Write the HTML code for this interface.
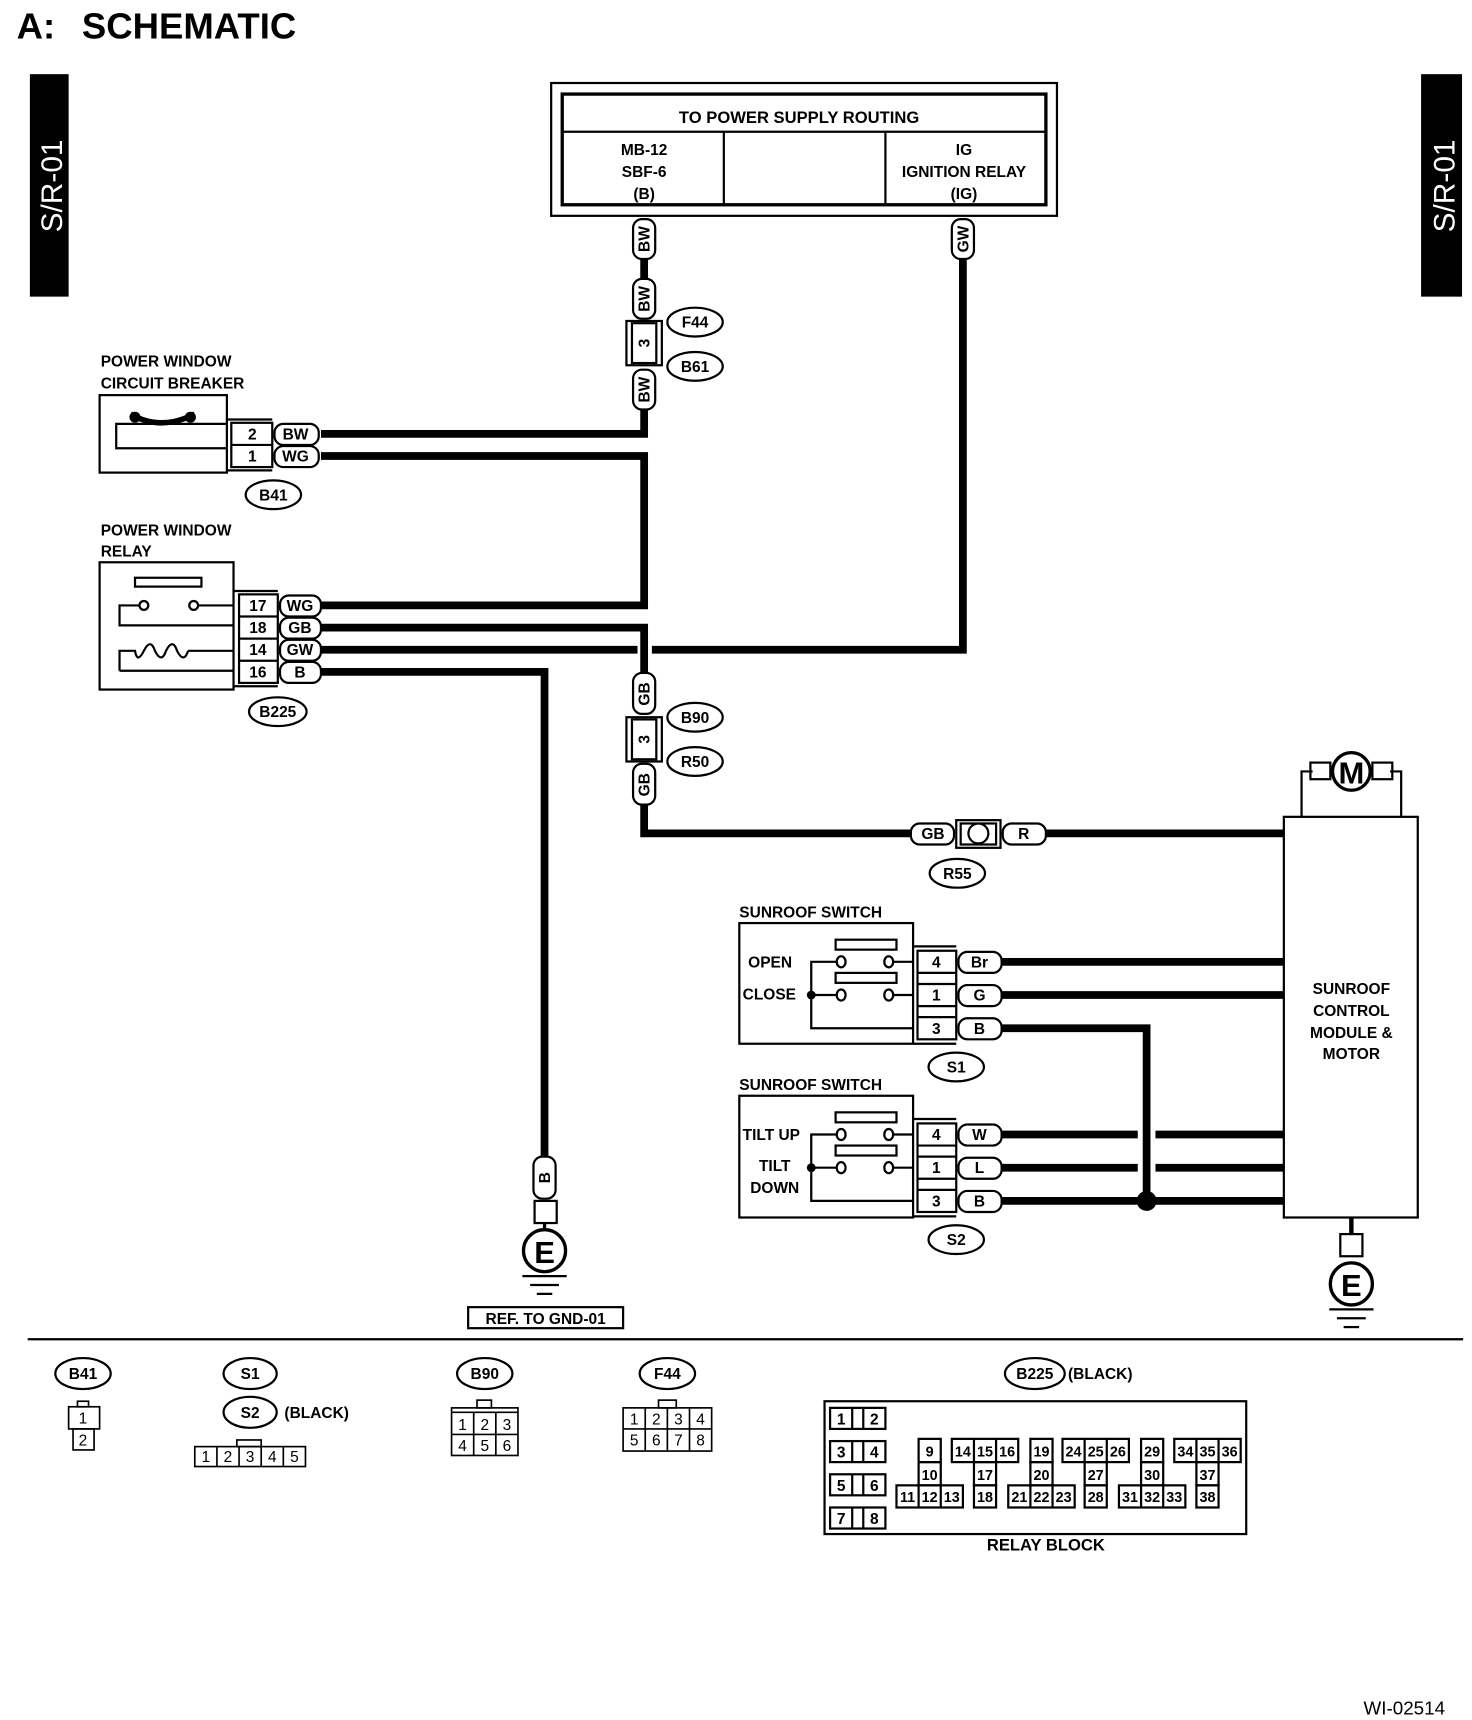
<!DOCTYPE html>
<html><head><meta charset="utf-8"><style>
html,body{margin:0;padding:0;background:#fff}
svg{display:block}
text{font-family:"Liberation Sans",Arial,sans-serif;font-weight:bold;fill:#000}
</style></head><body>
<svg width="1472" height="1720" viewBox="0 0 1330 1554" preserveAspectRatio="none" xmlns="http://www.w3.org/2000/svg">
<rect x="0" y="0" width="1330" height="1554" fill="#fff"/>
<text x="15" y="35" font-size="33">A:</text><text x="74" y="35" font-size="33">SCHEMATIC</text>
<!-- tabs -->
<rect x="27" y="67" width="35" height="201" fill="#000"/>
<text transform="translate(56,168) rotate(-90)" text-anchor="middle" font-size="27" style="fill:#fff;font-weight:normal">S/R-01</text>
<rect x="1284" y="67" width="37" height="201" fill="#000"/>
<text transform="translate(1314,168) rotate(-90)" text-anchor="middle" font-size="27" style="fill:#fff;font-weight:normal">S/R-01</text>

<g fill="none" stroke="#000">
<rect x="498" y="75" width="457" height="120" stroke-width="2"/>
<rect x="508" y="85" width="437" height="100" stroke-width="3"/>
<line x1="508" y1="119" x2="945" y2="119" stroke-width="2"/>
<line x1="654" y1="119" x2="654" y2="185" stroke-width="2"/>
<line x1="800" y1="119" x2="800" y2="185" stroke-width="2"/>
<g stroke-width="7" stroke-linejoin="miter">
<polyline points="582,234 582,252"/>
<polyline points="582,370 582,392 290,392"/>
<polyline points="290,412 582,412 582,547 290,547"/>
<polyline points="870,234 870,587 589,587"/>
<polyline points="290,587 576,587"/>
<polyline points="290,567 582,567 582,608"/>
<polyline points="582,727 582,753 825,753"/>
<polyline points="945,753 1160,753"/>
<polyline points="290,607 492,607 492,1045"/>
<polyline points="905,869 1160,869"/>
<polyline points="905,899 1160,899"/>
<polyline points="905,929 1036,929 1036,1085"/>
<polyline points="905,1025 1028,1025"/><polyline points="1044,1025 1160,1025"/>
<polyline points="905,1055 1028,1055"/><polyline points="1044,1055 1160,1055"/>
<polyline points="905,1085 1160,1085"/>
</g>
<rect x="566" y="290" width="32" height="40" stroke-width="2"/>
<rect x="571" y="292" width="22" height="36" stroke-width="2"/>
<rect x="566" y="648" width="32" height="40" stroke-width="2"/>
<rect x="571" y="650" width="22" height="36" stroke-width="2"/>
<rect x="864" y="741" width="40" height="25" stroke-width="2"/>
<rect x="868" y="744" width="32" height="19" stroke-width="2"/>
<ellipse cx="884" cy="753" rx="9" ry="9" stroke-width="2"/>
<rect x="90" y="357" width="115" height="70" stroke-width="2"/>
<polyline points="205,383 105,383 105,405 205,405" stroke-width="2"/>
<path d="M118 374 Q145 390 176 374" stroke-width="5"/>
<rect x="209" y="382" width="37" height="40" stroke-width="2"/>
<line x1="209" y1="402" x2="246" y2="402" stroke-width="2"/>
<polyline points="205,379 246,379" stroke-width="2"/><polyline points="205,425 246,425" stroke-width="2"/>
<rect x="90" y="508" width="121" height="115" stroke-width="2"/>
<rect x="122" y="522" width="60" height="8" stroke-width="2"/>
<polyline points="211,547 179,547" stroke-width="2"/><circle cx="175" cy="547" r="4" stroke-width="2"/>
<circle cx="130" cy="547" r="4" stroke-width="2"/><polyline points="126,547 108,547 108,565 211,565" stroke-width="2"/>
<path d="M211 588 L170 588 M108 606 L108 588 L122 588 q2 12 8 0 q6 -12 10 0 q6 12 10 0 q6 -12 10 0 q6 12 10 0 M108 606 L211 606" stroke-width="2"/>
<rect x="216" y="537" width="35" height="80" stroke-width="2"/>
<line x1="216" y1="557" x2="251" y2="557" stroke-width="2"/>
<line x1="216" y1="577" x2="251" y2="577" stroke-width="2"/>
<line x1="216" y1="597" x2="251" y2="597" stroke-width="2"/>
<polyline points="211,534 251,534" stroke-width="2"/><polyline points="211,620 251,620" stroke-width="2"/>
<rect x="483" y="1085" width="20" height="20" stroke-width="2"/>
<line x1="492" y1="1105" x2="492" y2="1111" stroke-width="3"/>
<circle cx="492" cy="1130" r="19" stroke-width="3"/>
<line x1="472" y1="1153" x2="512" y2="1153" stroke-width="2"/>
<line x1="479" y1="1161" x2="505" y2="1161" stroke-width="2"/>
<line x1="485" y1="1169" x2="499" y2="1169" stroke-width="2"/>
<rect x="423" y="1181" width="140" height="19" stroke-width="2"/>
<rect x="1160" y="738" width="121" height="362" stroke-width="2"/>
<polyline points="1176,738 1176,697 1186,697" stroke-width="2"/>
<polyline points="1266,738 1266,697 1256,697" stroke-width="2"/>
<rect x="1184" y="689" width="18" height="15" stroke-width="2"/>
<rect x="1240" y="689" width="18" height="15" stroke-width="2"/>
<circle cx="1221" cy="697" r="17" stroke-width="3" fill="#fff"/>
<line x1="1221" y1="1100" x2="1221" y2="1115" stroke-width="4"/>
<rect x="1211" y="1115" width="20" height="20" stroke-width="2"/>
<circle cx="1221" cy="1160" r="19" stroke-width="3"/>
<line x1="1201" y1="1183" x2="1241" y2="1183" stroke-width="2"/>
<line x1="1208" y1="1191" x2="1234" y2="1191" stroke-width="2"/>
<line x1="1214" y1="1199" x2="1228" y2="1199" stroke-width="2"/>
<rect x="668" y="834" width="157" height="109" stroke-width="2"/>
<rect x="755" y="849" width="55" height="9" stroke-width="2"/>
<rect x="755" y="879" width="55" height="9" stroke-width="2"/>
<ellipse cx="760" cy="869" rx="4" ry="5" stroke-width="2"/><ellipse cx="803" cy="869" rx="4" ry="5" stroke-width="2"/>
<ellipse cx="760" cy="899" rx="4" ry="5" stroke-width="2"/><ellipse cx="803" cy="899" rx="4" ry="5" stroke-width="2"/>
<polyline points="756,869 733,869 733,929 825,929" stroke-width="2"/>
<line x1="733" y1="899" x2="756" y2="899" stroke-width="2"/>
<line x1="807" y1="869" x2="825" y2="869" stroke-width="2"/><line x1="807" y1="899" x2="825" y2="899" stroke-width="2"/>
<rect x="829" y="859" width="35" height="80" stroke-width="2"/>
<line x1="829" y1="879" x2="864" y2="879" stroke-width="2"/><line x1="829" y1="889" x2="864" y2="889" stroke-width="2"/>
<line x1="829" y1="909" x2="864" y2="909" stroke-width="2"/><line x1="829" y1="919" x2="864" y2="919" stroke-width="2"/>
<polyline points="825,855 864,855" stroke-width="2"/><polyline points="825,943 864,943" stroke-width="2"/>
<rect x="668" y="990" width="157" height="110" stroke-width="2"/>
<rect x="755" y="1005" width="55" height="9" stroke-width="2"/>
<rect x="755" y="1035" width="55" height="9" stroke-width="2"/>
<ellipse cx="760" cy="1025" rx="4" ry="5" stroke-width="2"/><ellipse cx="803" cy="1025" rx="4" ry="5" stroke-width="2"/>
<ellipse cx="760" cy="1055" rx="4" ry="5" stroke-width="2"/><ellipse cx="803" cy="1055" rx="4" ry="5" stroke-width="2"/>
<polyline points="756,1025 733,1025 733,1085 825,1085" stroke-width="2"/>
<line x1="733" y1="1055" x2="756" y2="1055" stroke-width="2"/>
<line x1="807" y1="1025" x2="825" y2="1025" stroke-width="2"/><line x1="807" y1="1055" x2="825" y2="1055" stroke-width="2"/>
<rect x="829" y="1015" width="35" height="80" stroke-width="2"/>
<line x1="829" y1="1035" x2="864" y2="1035" stroke-width="2"/><line x1="829" y1="1045" x2="864" y2="1045" stroke-width="2"/>
<line x1="829" y1="1065" x2="864" y2="1065" stroke-width="2"/><line x1="829" y1="1075" x2="864" y2="1075" stroke-width="2"/>
<polyline points="825,1011 864,1011" stroke-width="2"/><polyline points="825,1099 864,1099" stroke-width="2"/>
<line x1="25" y1="1210" x2="1322" y2="1210" stroke-width="2"/>
</g>
<circle cx="122" cy="377" r="5"/><circle cx="172" cy="377" r="5"/>
<circle cx="733" cy="899" r="4"/><circle cx="733" cy="1055" r="4"/>
<circle cx="1036" cy="1085" r="9"/>

<g fill="#fff" stroke="#000" stroke-width="2">
<rect x="572" y="198" width="20" height="36" rx="8"/>
<rect x="572" y="252" width="20" height="36" rx="8"/>
<rect x="572" y="334" width="20" height="36" rx="8"/>
<rect x="860" y="198" width="20" height="36" rx="8"/>
<rect x="572" y="608" width="20" height="37" rx="8"/>
<rect x="572" y="690" width="20" height="37" rx="8"/>
<rect x="482" y="1045" width="20" height="38" rx="8"/>
<rect x="248" y="383" width="40" height="19" rx="8"/>
<rect x="248" y="403" width="40" height="19" rx="8"/>
<rect x="253" y="538" width="37" height="19" rx="8"/>
<rect x="253" y="558" width="37" height="19" rx="8"/>
<rect x="253" y="578" width="37" height="19" rx="8"/>
<rect x="253" y="598" width="37" height="19" rx="8"/>
<rect x="823" y="744" width="39" height="19" rx="8"/>
<rect x="906" y="744" width="39" height="19" rx="8"/>
<rect x="866" y="860" width="39" height="19" rx="8"/>
<rect x="866" y="890" width="39" height="19" rx="8"/>
<rect x="866" y="920" width="39" height="19" rx="8"/>
<rect x="866" y="1016" width="39" height="19" rx="8"/>
<rect x="866" y="1046" width="39" height="19" rx="8"/>
<rect x="866" y="1076" width="39" height="19" rx="8"/>
<ellipse cx="628" cy="291" rx="25" ry="13"/>
<ellipse cx="628" cy="331" rx="25" ry="13"/>
<ellipse cx="628" cy="648" rx="25" ry="13"/>
<ellipse cx="628" cy="688" rx="25" ry="13"/>
<ellipse cx="247" cy="447" rx="25" ry="13"/>
<ellipse cx="251" cy="643" rx="26" ry="13"/>
<ellipse cx="865" cy="789" rx="25" ry="13"/>
<ellipse cx="864" cy="964" rx="25" ry="13"/>
<ellipse cx="864" cy="1120" rx="25" ry="13"/>
<ellipse cx="75" cy="1241" rx="25" ry="14"/>
<ellipse cx="226" cy="1241" rx="24" ry="14"/>
<ellipse cx="226" cy="1276" rx="24" ry="14"/>
<ellipse cx="438" cy="1241" rx="25" ry="14"/>
<ellipse cx="603" cy="1241" rx="25" ry="14"/>
<ellipse cx="935" cy="1241" rx="27" ry="14"/>
</g>

<g font-size="14" text-anchor="middle">
<text x="722" y="111" font-size="15">TO POWER SUPPLY ROUTING</text>
<text x="582" y="140">MB-12</text><text x="582" y="160">SBF-6</text><text x="582" y="180">(B)</text>
<text x="871" y="140">IG</text><text x="871" y="160">IGNITION RELAY</text><text x="871" y="180">(IG)</text>
<text transform="translate(587,216) rotate(-90)">BW</text>
<text transform="translate(587,270) rotate(-90)">BW</text>
<text transform="translate(587,310) rotate(-90)">3</text>
<text transform="translate(587,352) rotate(-90)">BW</text>
<text transform="translate(875,216) rotate(-90)">GW</text>
<text transform="translate(587,627) rotate(-90)">GB</text>
<text transform="translate(587,668) rotate(-90)">3</text>
<text transform="translate(587,709) rotate(-90)">GB</text>
<text transform="translate(497,1064) rotate(-90)">B</text>
<text x="628" y="296">F44</text><text x="628" y="336">B61</text>
<text x="628" y="653">B90</text><text x="628" y="693">R50</text>
<text x="247" y="452">B41</text><text x="251" y="648">B225</text>
<text x="865" y="794">R55</text><text x="864" y="969">S1</text><text x="864" y="1125">S2</text>
<text x="228" y="397">2</text><text x="228" y="417">1</text>
<text x="267" y="397">BW</text><text x="267" y="417">WG</text>
<text x="233" y="552">17</text><text x="233" y="572">18</text><text x="233" y="592">14</text><text x="233" y="612">16</text>
<text x="271" y="552">WG</text><text x="271" y="572">GB</text><text x="271" y="592">GW</text><text x="271" y="612">B</text>
<text x="843" y="758">GB</text><text x="925" y="758">R</text>
<text x="846" y="874">4</text><text x="846" y="904">1</text><text x="846" y="934">3</text>
<text x="885" y="874">Br</text><text x="885" y="904">G</text><text x="885" y="934">B</text>
<text x="846" y="1030">4</text><text x="846" y="1060">1</text><text x="846" y="1090">3</text>
<text x="885" y="1030">W</text><text x="885" y="1060">L</text><text x="885" y="1090">B</text>
<text x="1221" y="898">SUNROOF</text><text x="1221" y="918">CONTROL</text><text x="1221" y="938">MODULE &amp;</text><text x="1221" y="957">MOTOR</text>
<text x="1221" y="708" font-size="28">M</text>
<text x="492" y="1141" font-size="28">E</text>
<text x="1221" y="1171" font-size="28">E</text>
<text x="493" y="1196">REF. TO GND-01</text>
<text x="75" y="1246">B41</text><text x="226" y="1246">S1</text><text x="226" y="1281">S2</text>
<text x="438" y="1246">B90</text><text x="603" y="1246">F44</text><text x="935" y="1246">B225</text>
<text x="945" y="1401" font-size="15">RELAY BLOCK</text>
<text x="700" y="1058">TILT</text><text x="700" y="1078">DOWN</text>
</g>
<g font-size="14">
<text x="91" y="331">POWER WINDOW</text><text x="91" y="351">CIRCUIT BREAKER</text>
<text x="91" y="484">POWER WINDOW</text><text x="91" y="503">RELAY</text>
<text x="668" y="829">SUNROOF SWITCH</text><text x="668" y="985">SUNROOF SWITCH</text>
<text x="676" y="874">OPEN</text><text x="671" y="903">CLOSE</text>
<text x="671" y="1030">TILT UP</text>
<text x="257" y="1281">(BLACK)</text><text x="965" y="1246">(BLACK)</text>
<text x="1232" y="1549" font-size="17" style="font-weight:normal">WI-02514</text>
</g>

<g fill="none" stroke="#000" stroke-width="1.5">
<rect x="70" y="1266" width="10" height="5"/><rect x="62" y="1271" width="28" height="20"/><rect x="66" y="1291" width="19" height="19"/>
<rect x="214" y="1301" width="22" height="6"/><rect x="176" y="1307" width="100" height="18"/>
<line x1="196" y1="1307" x2="196" y2="1325"/><line x1="216" y1="1307" x2="216" y2="1325"/><line x1="236" y1="1307" x2="236" y2="1325"/><line x1="256" y1="1307" x2="256" y2="1325"/>
<rect x="431" y="1265" width="13" height="7"/><rect x="408" y="1272" width="60" height="43"/><line x1="408" y1="1276" x2="468" y2="1276"/>
<line x1="408" y1="1296" x2="468" y2="1296"/><line x1="428" y1="1276" x2="428" y2="1315"/><line x1="448" y1="1276" x2="448" y2="1315"/>
<rect x="595" y="1265" width="16" height="7"/><rect x="563" y="1272" width="80" height="39"/>
<line x1="563" y1="1291" x2="643" y2="1291"/><line x1="583" y1="1272" x2="583" y2="1311"/><line x1="603" y1="1272" x2="603" y2="1311"/><line x1="623" y1="1272" x2="623" y2="1311"/>
<rect x="745" y="1266" width="381" height="120" stroke-width="2"/>
</g>
<g font-size="14" text-anchor="middle">
<text x="75" y="1286" style="font-weight:normal">1</text><text x="75" y="1306" style="font-weight:normal">2</text>
<text x="186" y="1321" style="font-weight:normal">1</text><text x="206" y="1321" style="font-weight:normal">2</text><text x="226" y="1321" style="font-weight:normal">3</text><text x="246" y="1321" style="font-weight:normal">4</text><text x="266" y="1321" style="font-weight:normal">5</text>
<text x="418" y="1292" style="font-weight:normal">1</text><text x="438" y="1292" style="font-weight:normal">2</text><text x="458" y="1292" style="font-weight:normal">3</text>
<text x="418" y="1311" style="font-weight:normal">4</text><text x="438" y="1311" style="font-weight:normal">5</text><text x="458" y="1311" style="font-weight:normal">6</text>
<text x="573" y="1287" style="font-weight:normal">1</text><text x="593" y="1287" style="font-weight:normal">2</text><text x="613" y="1287" style="font-weight:normal">3</text><text x="633" y="1287" style="font-weight:normal">4</text>
<text x="573" y="1306" style="font-weight:normal">5</text><text x="593" y="1306" style="font-weight:normal">6</text><text x="613" y="1306" style="font-weight:normal">7</text><text x="633" y="1306" style="font-weight:normal">8</text>
</g>
<g fill="none" stroke="#000" stroke-width="2">
<rect x="750" y="1272" width="50" height="19"/><line x1="770" y1="1272" x2="770" y2="1291"/><line x1="780" y1="1272" x2="780" y2="1291"/>
<rect x="750" y="1302" width="50" height="19"/><line x1="770" y1="1302" x2="770" y2="1321"/><line x1="780" y1="1302" x2="780" y2="1321"/>
<rect x="750" y="1332" width="50" height="19"/><line x1="770" y1="1332" x2="770" y2="1351"/><line x1="780" y1="1332" x2="780" y2="1351"/>
<rect x="750" y="1362" width="50" height="19"/><line x1="770" y1="1362" x2="770" y2="1381"/><line x1="780" y1="1362" x2="780" y2="1381"/>
<rect x="830" y="1300" width="20" height="21"/><rect x="830" y="1321" width="20" height="21"/><rect x="810" y="1342" width="60" height="20"/><line x1="830" y1="1342" x2="830" y2="1362"/><line x1="850" y1="1342" x2="850" y2="1362"/>
<rect x="860" y="1300" width="60" height="21"/><line x1="880" y1="1300" x2="880" y2="1321"/><line x1="900" y1="1300" x2="900" y2="1321"/><rect x="880" y="1321" width="20" height="21"/><rect x="880" y="1342" width="20" height="20"/>
<rect x="931" y="1300" width="20" height="21"/><rect x="931" y="1321" width="20" height="21"/><rect x="911" y="1342" width="60" height="20"/><line x1="931" y1="1342" x2="931" y2="1362"/><line x1="951" y1="1342" x2="951" y2="1362"/>
<rect x="960" y="1300" width="60" height="21"/><line x1="980" y1="1300" x2="980" y2="1321"/><line x1="1000" y1="1300" x2="1000" y2="1321"/><rect x="980" y="1321" width="20" height="21"/><rect x="980" y="1342" width="20" height="20"/>
<rect x="1031" y="1300" width="20" height="21"/><rect x="1031" y="1321" width="20" height="21"/><rect x="1011" y="1342" width="60" height="20"/><line x1="1031" y1="1342" x2="1031" y2="1362"/><line x1="1051" y1="1342" x2="1051" y2="1362"/>
<rect x="1061" y="1300" width="60" height="21"/><line x1="1081" y1="1300" x2="1081" y2="1321"/><line x1="1101" y1="1300" x2="1101" y2="1321"/><rect x="1081" y="1321" width="20" height="21"/><rect x="1081" y="1342" width="20" height="20"/>
</g>
<g font-size="14" text-anchor="middle">
<text x="760" y="1287">1</text><text x="790" y="1287">2</text>
<text x="760" y="1317">3</text><text x="790" y="1317">4</text>
<text x="760" y="1347">5</text><text x="790" y="1347">6</text>
<text x="760" y="1377">7</text><text x="790" y="1377">8</text>
<g font-size="13" style="font-weight:normal">
<text x="840" y="1316">9</text><text x="840" y="1337">10</text><text x="820" y="1357">11</text><text x="840" y="1357">12</text><text x="860" y="1357">13</text>
<text x="870" y="1316">14</text><text x="890" y="1316">15</text><text x="910" y="1316">16</text><text x="890" y="1337">17</text><text x="890" y="1357">18</text>
<text x="941" y="1316">19</text><text x="941" y="1337">20</text><text x="921" y="1357">21</text><text x="941" y="1357">22</text><text x="961" y="1357">23</text>
<text x="970" y="1316">24</text><text x="990" y="1316">25</text><text x="1010" y="1316">26</text><text x="990" y="1337">27</text><text x="990" y="1357">28</text>
<text x="1041" y="1316">29</text><text x="1041" y="1337">30</text><text x="1021" y="1357">31</text><text x="1041" y="1357">32</text><text x="1061" y="1357">33</text>
<text x="1071" y="1316">34</text><text x="1091" y="1316">35</text><text x="1111" y="1316">36</text><text x="1091" y="1337">37</text><text x="1091" y="1357">38</text>
</g>
</g>
</svg>
</body></html>
